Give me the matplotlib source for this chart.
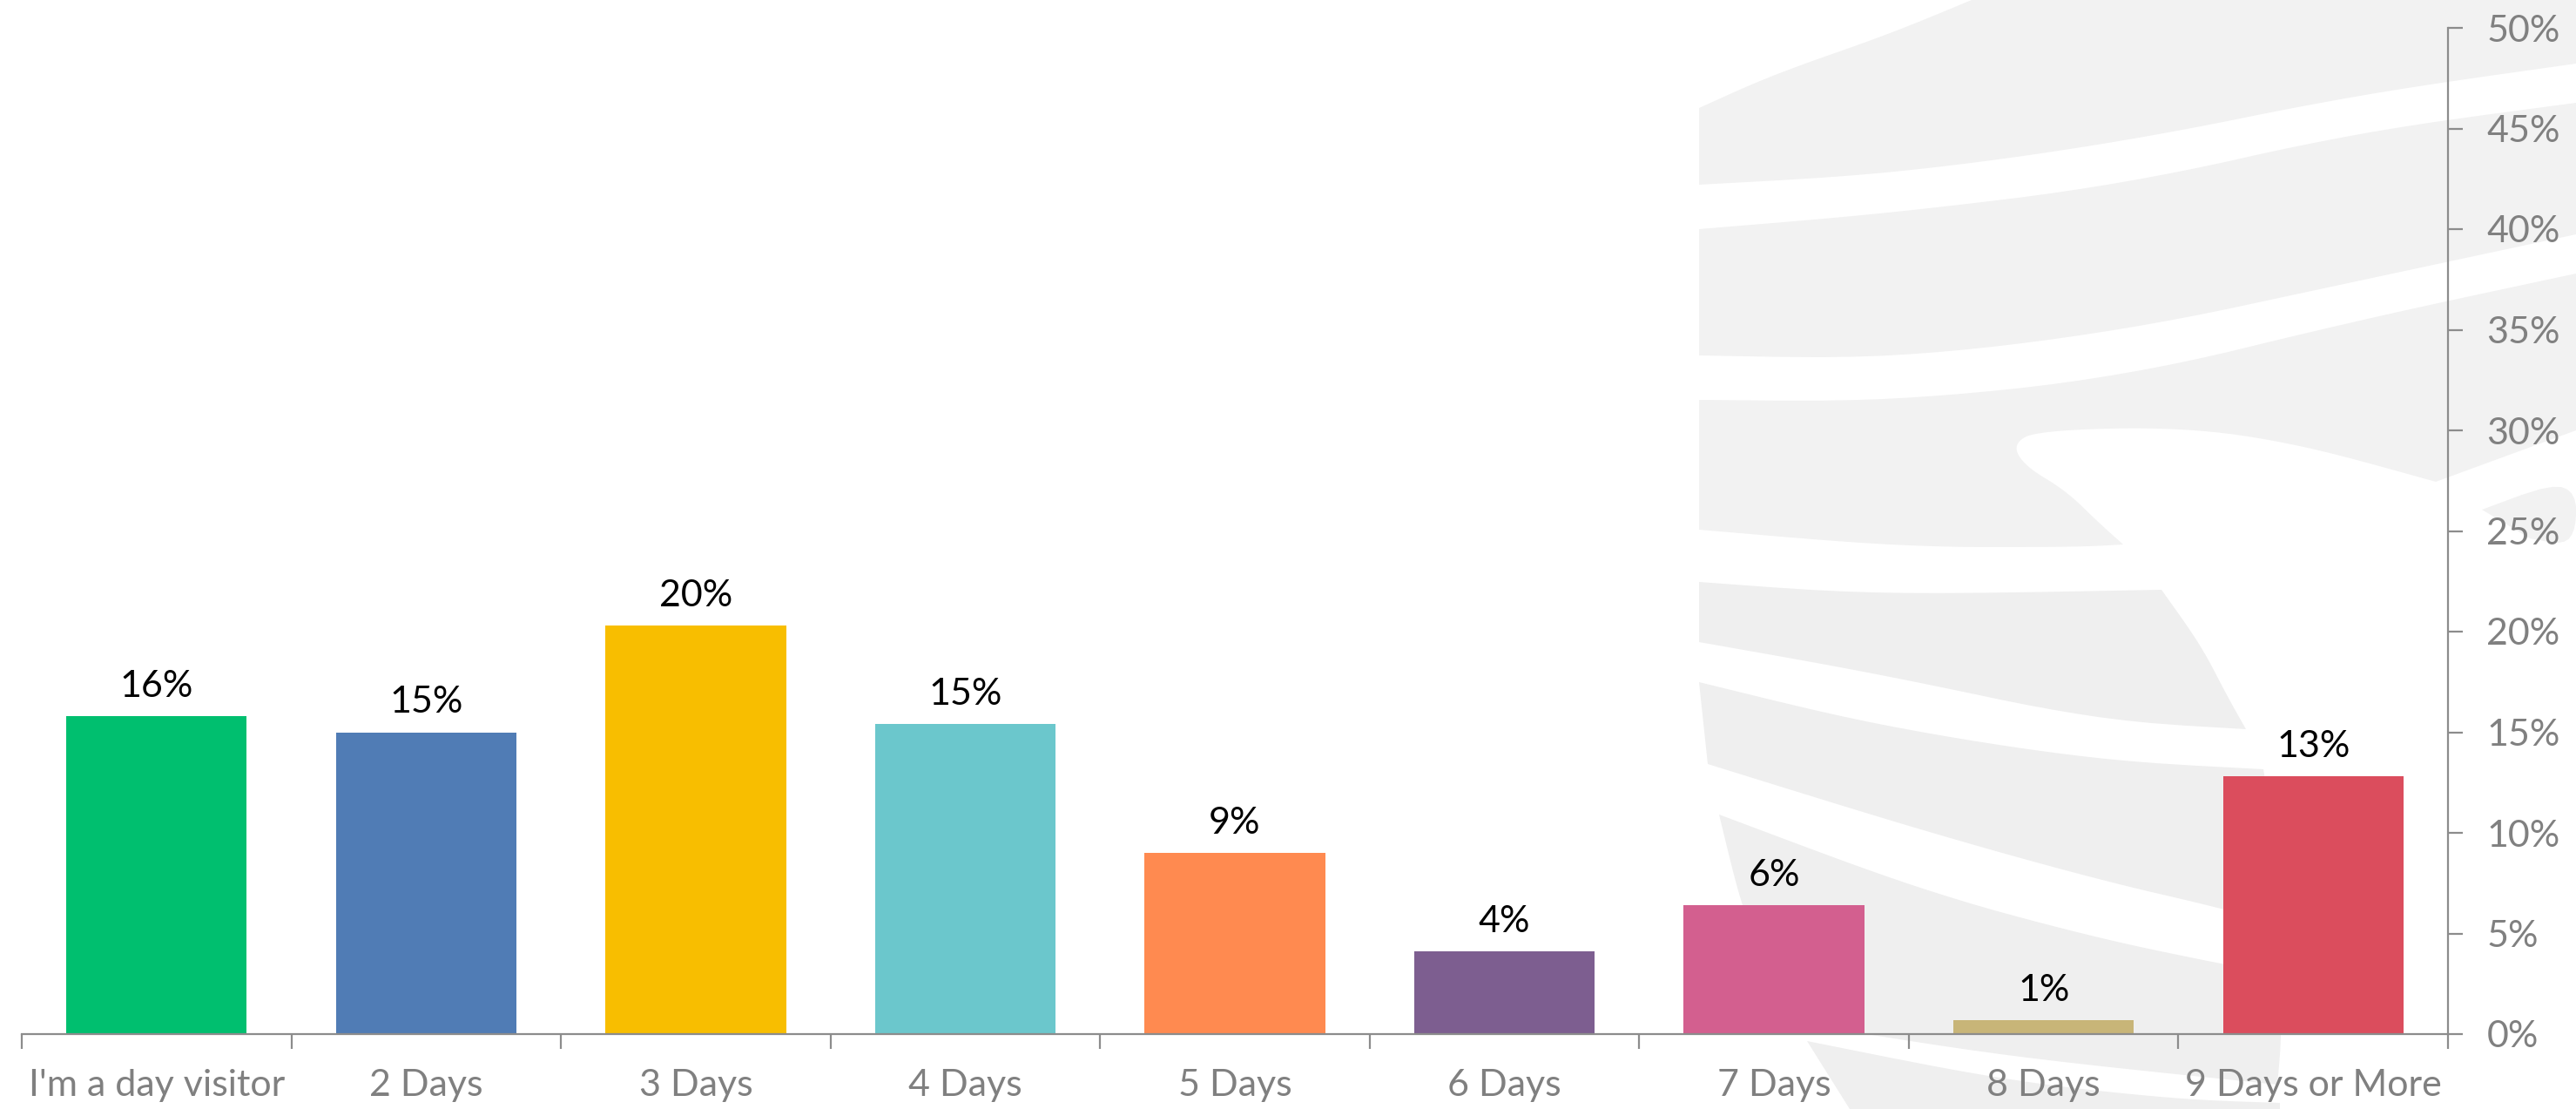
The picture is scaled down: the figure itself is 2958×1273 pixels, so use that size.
import matplotlib
matplotlib.use("Agg")
import numpy as np
import matplotlib.pyplot as plt
from matplotlib.patches import Polygon
from matplotlib.ticker import FixedLocator, PercentFormatter

# length of stay, share of respondents
categories = ["I'm a day visitor", "2 Days", "3 Days", "4 Days", "5 Days",
              "6 Days", "7 Days", "8 Days", "9 Days or More"]
shares = [0.158, 0.150, 0.203, 0.154, 0.090, 0.041, 0.064, 0.007, 0.128]
labels = ["16%", "15%", "20%", "15%", "9%", "4%", "6%", "1%", "13%"]
colors = ["#00BF6F", "#507CB5", "#F8BE00", "#6BC7CC", "#FF8A50",
          "#7D5E90", "#D35F8F", "#C8B578", "#DB4D5D"]
y_ticks = [0, 0.05, 0.10, 0.15, 0.20, 0.25, 0.30, 0.35, 0.40, 0.45, 0.50]

W, H = 2958, 1273
GRAY = "#808080"
AXIS = "#8C8C8C"
FS = 31
plt.rcParams["font.family"] = ["Lato", "DejaVu Sans"]

# faint globe logo behind the plot: each band is a chain of edges,
# pixel units with y pointing down
logo_upper = [
    [[(1951, 124), (2035, 86), (2170, 39), (2264, 0)],
     [(2264, 0), (2958, 0)],
     [(2958, 0), (2958, 73)],
     [(2958, 73), (2710, 108), (2440, 163), (2170, 200), (1951, 212)]],
    [[(1951, 263), (2170, 245), (2440, 212), (2710, 151), (2958, 118)],
     [(2958, 118), (2958, 269)],
     [(2958, 269), (2710, 322), (2440, 380), (2170, 412), (1951, 408)]],
    [[(1951, 459), (2170, 461), (2440, 433), (2710, 367), (2958, 314)],
     [(2958, 314), (2958, 494)],
     [(2958, 494), (2797, 553)],
     [(2797, 553), (2642, 510), (2507, 490), (2339, 494), (2311, 510),
      (2325, 535), (2372, 563), (2410, 600), (2438, 625)],
     [(2438, 625), (2385, 628), (2186, 628), (1951, 608)]],
    [[(2850, 585), (2958, 545), (2958, 628), (2905, 618)]],
]
logo_lower = [
    [[(1951, 668), (2155, 683), (2482, 677)],
     [(2482, 677), (2527, 740), (2558, 800), (2579, 837)],
     [(2579, 837), (2410, 827), (2155, 773), (1951, 737)]],
    [[(1951, 783), (2155, 833), (2410, 873), (2599, 883)],
     [(2599, 883), (2612, 960), (2617, 1062)],
     [(2617, 1062), (2553, 1043), (2410, 1010), (2206, 953), (1961, 877)]],
    [[(1974, 935), (2206, 1022), (2400, 1075), (2553, 1107), (2617, 1118)],
     [(2617, 1118), (2620, 1190), (2615, 1245)],
     [(2615, 1245), (2305, 1213), (2069, 1175)],
     [(2069, 1175), (2030, 1100), (2002, 1050), (1974, 935)]],
    [[(2075, 1195), (2300, 1240), (2500, 1262), (2618, 1266)],
     [(2618, 1266), (2618, 1273)],
     [(2618, 1273), (2124, 1273)],
     [(2124, 1273), (2075, 1195)]],
]


def smooth_edge(pts, rounds=3):
    # Chaikin corner cutting on an open edge, end points kept
    p = np.asarray(pts, dtype=float)
    for _ in range(rounds):
        if len(p) < 3:
            break
        a, b = p[:-1], p[1:]
        mid = np.column_stack([0.75 * a + 0.25 * b, 0.25 * a + 0.75 * b]).reshape(-1, 2)
        p = np.vstack([p[:1], mid[1:-1], p[-1:]])
    return p


def band_outline(edges):
    return np.vstack([smooth_edge(e) for e in edges])


fig = plt.figure(figsize=(W / 100, H / 100), dpi=100)

bg = fig.add_axes([0, 0, 1, 1], zorder=0)
bg.set_xlim(0, W)
bg.set_ylim(H, 0)
bg.axis("off")
for edges in logo_upper:
    bg.add_patch(Polygon(band_outline(edges), closed=True,
                         facecolor="#F2F2F2", edgecolor="none"))
for edges in logo_lower:
    bg.add_patch(Polygon(band_outline(edges), closed=True,
                         facecolor="#EFEFEF", edgecolor="none"))

ax = fig.add_axes([25 / W, 86 / H, 2786 / W, 1155 / H], zorder=1)
ax.patch.set_alpha(0)

x = list(range(len(categories)))
bars = ax.bar(x, shares, width=0.67, color=colors, zorder=2)
for bar, text in zip(bars, labels):
    ax.annotate(text, (bar.get_x() + bar.get_width() / 2, bar.get_height()),
                xytext=(0, 11), textcoords="offset points",
                ha="center", va="bottom", fontsize=FS, color="black")

ax.set_xlim(-0.5, len(categories) - 0.5)
ax.set_ylim(0, 0.5)

for side in ("left", "top"):
    ax.spines[side].set_visible(False)
for side in ("right", "bottom"):
    ax.spines[side].set_color(AXIS)
    ax.spines[side].set_linewidth(1.6)

ax.set_xticks(x)
ax.set_xticklabels(categories)
ax.xaxis.set_minor_locator(FixedLocator([i - 0.5 for i in range(len(categories) + 1)]))
ax.tick_params(axis="x", which="major", length=0, pad=29, labelsize=FS,
               labelcolor=GRAY)
ax.tick_params(axis="x", which="minor", length=12, width=1.6, color=AXIS,
               direction="out")

ax.yaxis.tick_right()
ax.set_yticks(y_ticks)
ax.yaxis.set_major_formatter(PercentFormatter(1.0, decimals=0))
ax.tick_params(axis="y", length=12, width=1.6, color=AXIS, pad=20,
               labelsize=FS, labelcolor=GRAY)

fig.savefig("out.png", dpi=100)
